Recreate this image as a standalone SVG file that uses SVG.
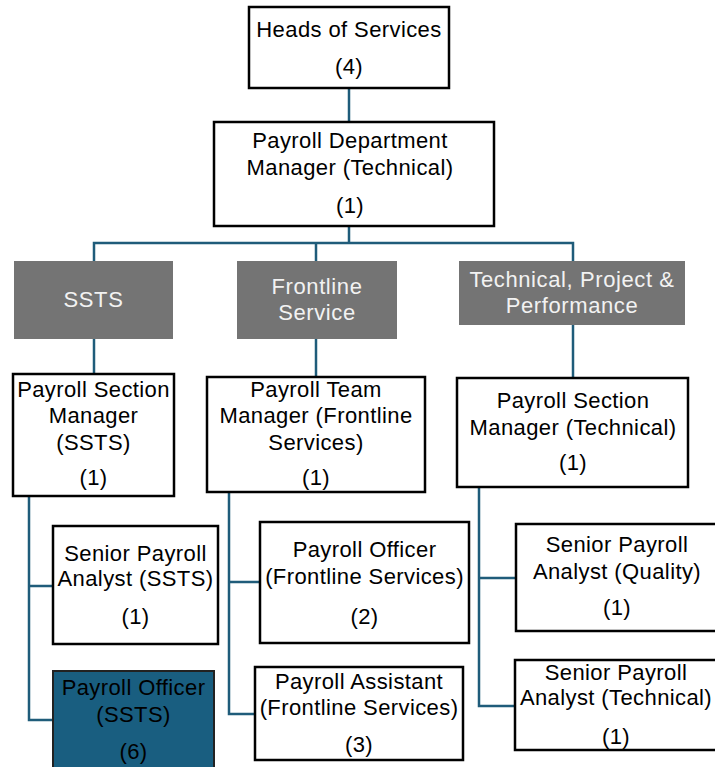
<svg xmlns="http://www.w3.org/2000/svg" width="715" height="767" viewBox="0 0 715 767">
<style>
.box{fill:#ffffff;stroke:#000000;stroke-width:2.5}
.hdr{fill:#747474;stroke:none}
.hi{fill:#195E80;stroke:#222222;stroke-width:2}
.t{font-family:"Liberation Sans",Arial,sans-serif;font-size:22px;letter-spacing:0.4px;fill:#000000;text-anchor:middle}
.h{font-family:"Liberation Sans",Arial,sans-serif;font-size:22px;letter-spacing:0.6px;fill:#f2f2f2;text-anchor:middle}
.c{fill:none;stroke:#1F5C7A;stroke-width:2.5}
</style>
<rect width="715" height="767" fill="#ffffff"/>
<g id="connectors">
<path class="c" d="M349 88 V122"/>
<path class="c" d="M349 226 V243 M94 261 V243 H573 V261 M316 243 V261"/>
<path class="c" d="M94 339 V374"/>
<path class="c" d="M316 339 V377"/>
<path class="c" d="M573 325 V378"/>
<path class="c" d="M29 496 V720 H53 M29 586 H53"/>
<path class="c" d="M229 492 V714 H255 M229 582 H260"/>
<path class="c" d="M479 487 V706 H515 M479 578 H516"/>
</g>
<g id="heads">
<rect class="box" x="249" y="7" width="200" height="81"/>
<text class="t" x="349" y="37">Heads of Services</text>
<text class="t" x="349" y="74">(4)</text>
</g>
<g id="pdm">
<rect class="box" x="214" y="122" width="280" height="104"/>
<text class="t" x="350" y="148">Payroll Department</text>
<text class="t" x="350" y="175">Manager (Technical)</text>
<text class="t" x="350" y="213">(1)</text>
</g>
<g id="hdr-ssts">
<rect class="hdr" x="14" y="261" width="159" height="78"/>
<text class="h" x="93.5" y="307">SSTS</text>
</g>
<g id="hdr-frontline">
<rect class="hdr" x="237" y="261" width="160" height="78"/>
<text class="h" x="317" y="294">Frontline</text>
<text class="h" x="317" y="320">Service</text>
</g>
<g id="hdr-tech">
<rect class="hdr" x="459" y="261" width="226" height="64"/>
<text class="h" x="572" y="287">Technical, Project &amp;</text>
<text class="h" x="572" y="313">Performance</text>
</g>
<g id="psm-ssts">
<rect class="box" x="13" y="374" width="161" height="122"/>
<text class="t" x="93.5" y="397">Payroll Section</text>
<text class="t" x="93.5" y="423">Manager</text>
<text class="t" x="93.5" y="450">(SSTS)</text>
<text class="t" x="93.5" y="485">(1)</text>
</g>
<g id="ptm-frontline">
<rect class="box" x="207" y="377" width="218" height="115"/>
<text class="t" x="316" y="397">Payroll Team</text>
<text class="t" x="316" y="423">Manager (Frontline</text>
<text class="t" x="316" y="450">Services)</text>
<text class="t" x="316" y="485">(1)</text>
</g>
<g id="psm-tech">
<rect class="box" x="457" y="378" width="231" height="109"/>
<text class="t" x="573" y="408">Payroll Section</text>
<text class="t" x="573" y="435">Manager (Technical)</text>
<text class="t" x="573" y="470">(1)</text>
</g>
<g id="spa-ssts">
<rect class="box" x="53" y="526" width="165" height="118"/>
<text class="t" x="135.5" y="561">Senior Payroll</text>
<text class="t" x="135.5" y="586">Analyst (SSTS)</text>
<text class="t" x="135.5" y="624">(1)</text>
</g>
<g id="po-ssts">
<rect class="hi" x="53" y="671" width="161" height="110"/>
<text class="t" x="133.5" y="695">Payroll Officer</text>
<text class="t" x="133.5" y="722">(SSTS)</text>
<text class="t" x="133.5" y="759">(6)</text>
</g>
<g id="po-frontline">
<rect class="box" x="260" y="522" width="209" height="121"/>
<text class="t" x="364.5" y="557">Payroll Officer</text>
<text class="t" x="364.5" y="584">(Frontline Services)</text>
<text class="t" x="364.5" y="624">(2)</text>
</g>
<g id="pa-frontline">
<rect class="box" x="255" y="667" width="208" height="93"/>
<text class="t" x="359" y="689">Payroll Assistant</text>
<text class="t" x="359" y="715">(Frontline Services)</text>
<text class="t" x="359" y="752">(3)</text>
</g>
<g id="spa-quality">
<rect class="box" x="516" y="524" width="202" height="107"/>
<text class="t" x="617" y="552">Senior Payroll</text>
<text class="t" x="617" y="579">Analyst (Quality)</text>
<text class="t" x="617" y="615">(1)</text>
</g>
<g id="spa-technical">
<rect class="box" x="515" y="660" width="203" height="90"/>
<text class="t" x="616" y="680">Senior Payroll</text>
<text class="t" x="616" y="705">Analyst (Technical)</text>
<text class="t" x="616" y="744">(1)</text>
</g>
</svg>
